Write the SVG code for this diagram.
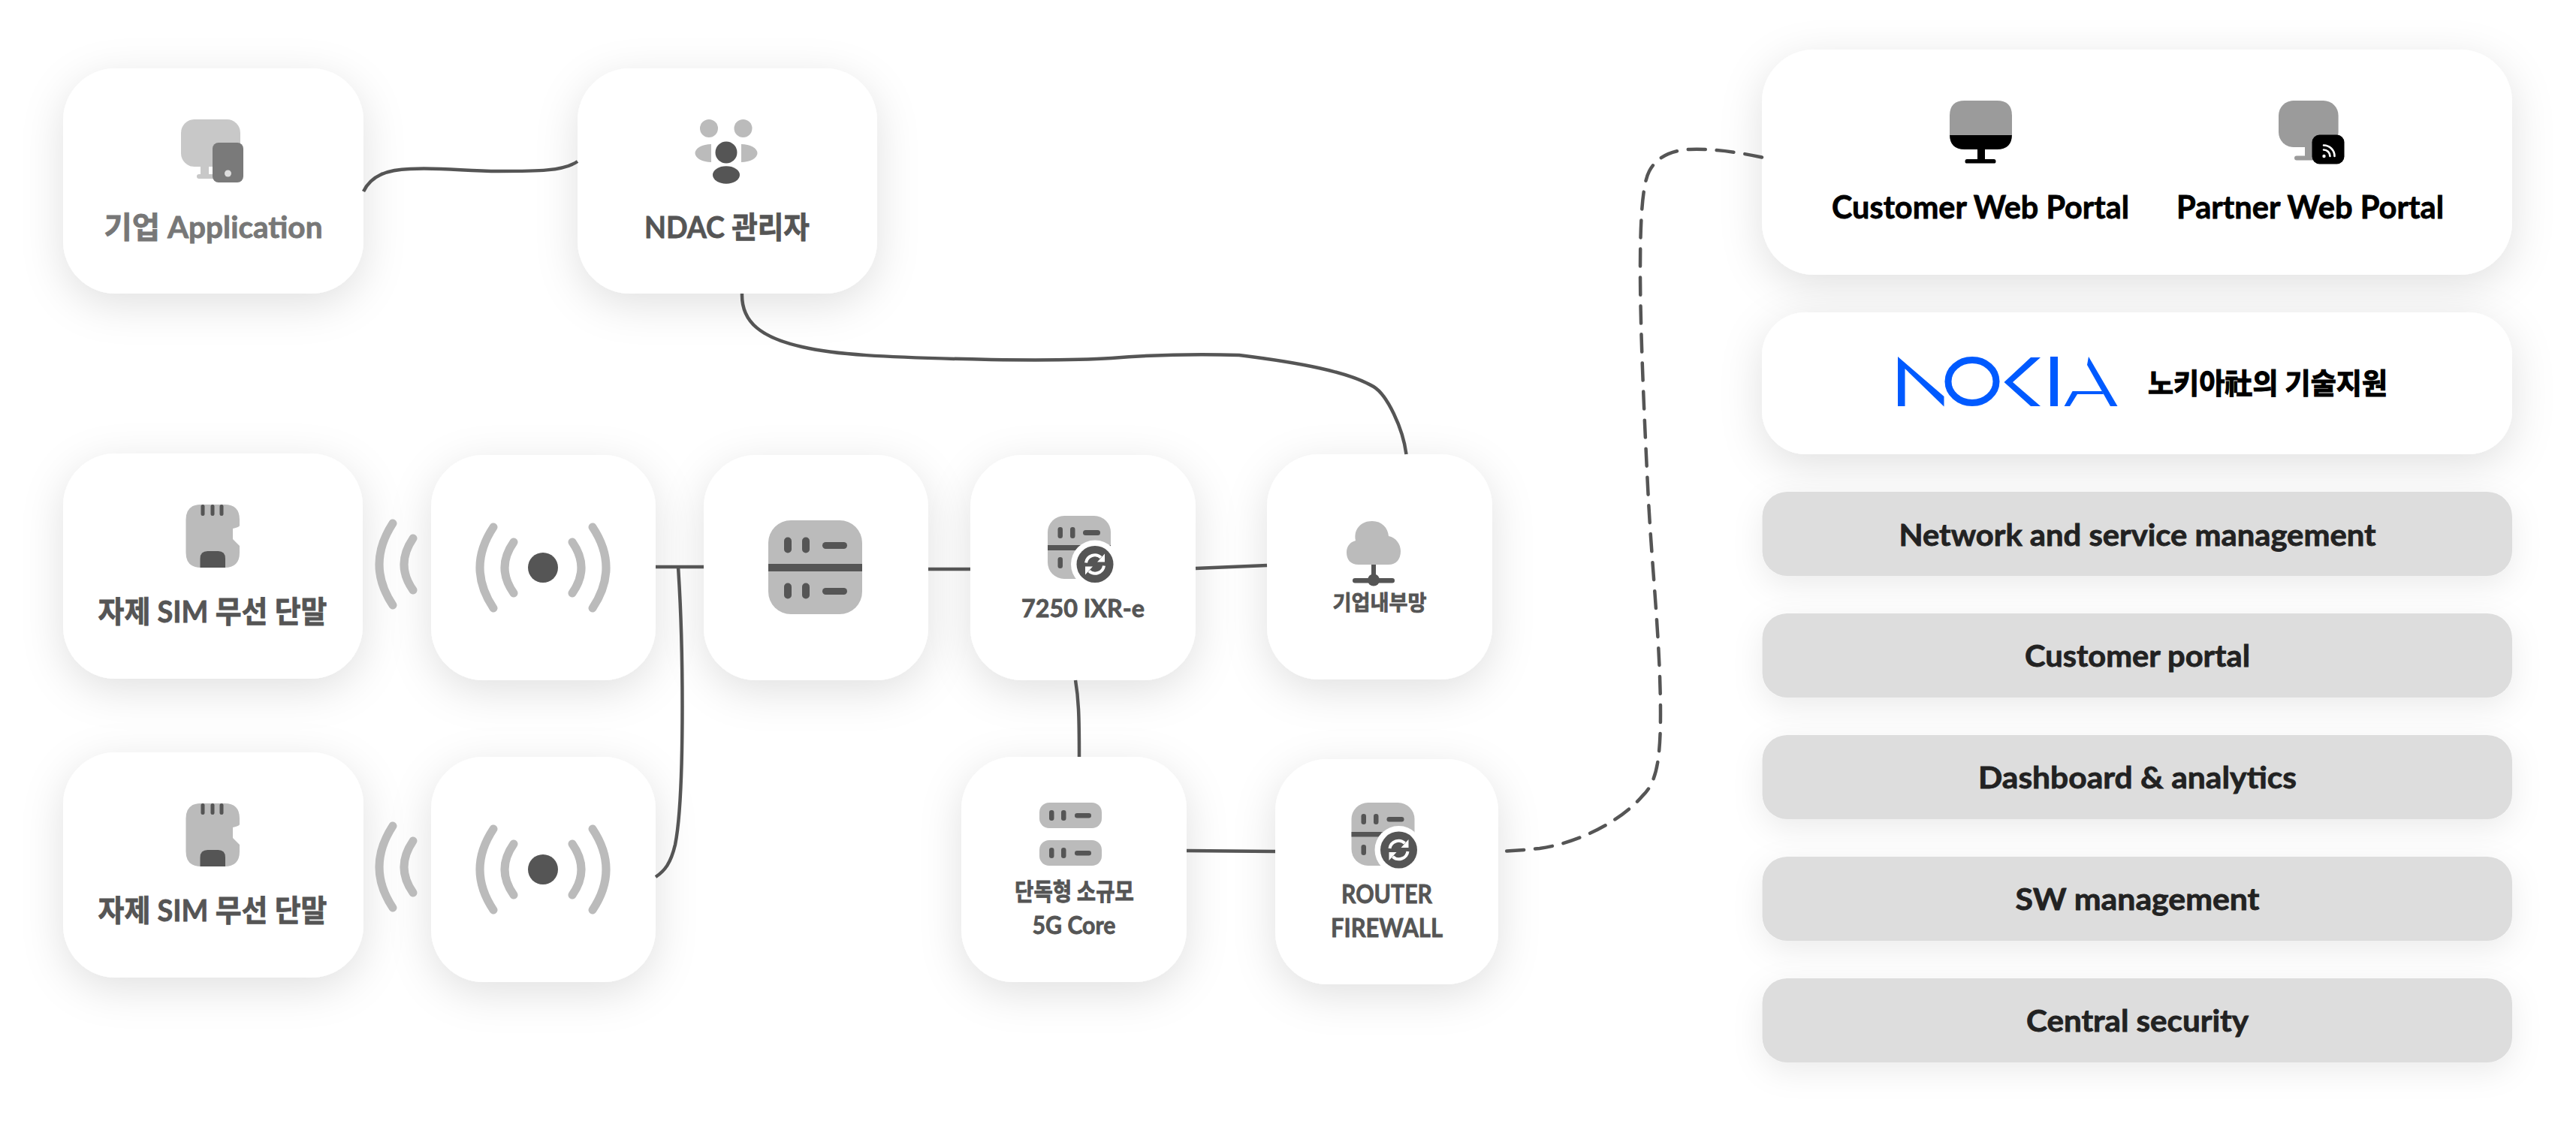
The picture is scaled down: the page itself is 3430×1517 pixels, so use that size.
<svg xmlns="http://www.w3.org/2000/svg" width="3430" height="1517" viewBox="0 0 3430 1517">
<style>
text{font-family:"Lato","Noto Sans CJK KR",sans-serif;font-weight:700;text-anchor:middle;fill:#555;stroke:#555;stroke-width:.8px}
.card{fill:#fff;filter:url(#sh)}
.bar{fill:#ddd;filter:url(#sh2)}
.d{fill:#555}.l{fill:#bbb}
.wave{fill:none;stroke:#bbb;stroke-width:11;stroke-linecap:round}
.conn{fill:none;stroke:#555;stroke-width:4.5}
.dash{stroke-dasharray:23 15;stroke-linecap:round}
.barT{font-size:40px;fill:#222;stroke:#222}
.lbl{font-size:40px}
.port{font-size:42px;fill:#000;stroke:#000}
.blue{fill:#005aff}
</style>
<defs>
<filter id="sh" x="-30%" y="-30%" width="160%" height="170%"><feDropShadow dx="0" dy="14" stdDeviation="28" flood-color="#000" flood-opacity=".12"/></filter>
<filter id="sh2" x="-10%" y="-60%" width="120%" height="240%"><feDropShadow dx="0" dy="12" stdDeviation="20" flood-color="#000" flood-opacity=".08"/></filter>
<clipPath id="simclip"><path d="M20 0H51.500Q71.500 0 71.500 20V28Q71.500 30 62.500 32V46L71.500 55V64Q71.500 84 51.500 84H20Q0 84 0 64V20Q0 0 20 0Z"/></clipPath>
<g id="sim">
<path class="l" d="M20 0H51.500Q71.500 0 71.500 20V28Q71.500 30 62.500 32V46L71.500 55V64Q71.500 84 51.500 84H20Q0 84 0 64V20Q0 0 20 0Z"/>
<g clip-path="url(#simclip)"><path class="d" d="M19 72Q19 62 29 62H43Q52.500 62 52.500 72V84H19Z"/>
<rect class="d" x="20" y="0" width="5" height="15" rx="2.500"/><rect class="d" x="33" y="0" width="5" height="15" rx="2.500"/><rect class="d" x="45" y="0" width="5" height="15" rx="2.500"/></g>
</g>
<g id="ant">
<circle class="d" cx="0" cy="0" r="20"/>
<path class="wave" d="M-39 -34Q-63 0 -39 34M39 -34Q63 0 39 34M-66 -54Q-102 0 -66 54M66 -54Q102 0 66 54"/>
</g>
<g id="twave"><path class="wave" d="M18 -55Q-18 0 18 54"/><path class="wave" d="M45 -35Q21 0 45 34"/></g>
<g id="slot"><rect class="d" x="-5" y="-10.500" width="10" height="21" rx="5"/></g>
<g id="badge">
<circle cx="0" cy="0" r="32" fill="#fff"/>
<circle class="d" cx="0" cy="0" r="24.500"/>
<path d="M-12 -2A12 12 0 0 1 8 -9M12 2A12 12 0 0 1 -8 9" fill="none" stroke="#fff" stroke-width="4"/>
<path d="M13 -14V-3H3ZM-13 14V3H-3Z" fill="#fff"/>
</g>
</defs>
<rect width="3430" height="1517" fill="#fff"/>

<g id="node-app"><rect class="card" x="84" y="91" width="400" height="300" rx="70"/>
<rect x="241" y="159" width="79" height="63" rx="18" fill="#c8c8c8"/><rect x="267" y="218" width="11" height="18" fill="#c8c8c8"/><rect x="262" y="232" width="30" height="6" rx="3" fill="#c8c8c8"/>
<rect x="283" y="190" width="41" height="53" rx="8" fill="#7a7a7a"/><circle cx="303.500" cy="231" r="4.500" fill="#ddd"/>
<text class="lbl" x="284" y="317" style="fill:#777;stroke:#777" textLength="291" lengthAdjust="spacingAndGlyphs">기업 Application</text></g>

<g id="node-ndac"><rect class="card" x="769" y="91" width="399" height="300" rx="70"/>
<circle class="l" cx="944" cy="171" r="12"/><circle class="l" cx="989.500" cy="171" r="12"/>
<path class="l" d="M947 192A21.500 12 0 0 0 947 216ZM987 192A21.500 12 0 0 1 987 216Z"/>
<circle class="d" cx="967" cy="203" r="14.500"/><ellipse class="d" cx="967" cy="233" rx="18" ry="11.700"/>
<text class="lbl" x="968" y="317" textLength="220" lengthAdjust="spacingAndGlyphs">NDAC 관리자</text></g>

<g id="node-ant1"><rect class="card" x="574" y="606" width="299" height="300" rx="70"/><use href="#ant" x="723" y="756"/></g>
<g id="node-ant2"><rect class="card" x="574" y="1008" width="299" height="300" rx="70"/><use href="#ant" x="723" y="1158"/></g>

<g id="node-sim1"><rect class="card" x="84" y="604" width="399" height="300" rx="70"/><use href="#sim" x="247.500" y="672"/><use href="#twave" x="505" y="752"/>
<text class="lbl" x="283" y="829" textLength="305" lengthAdjust="spacingAndGlyphs">자제 SIM 무선 단말</text></g>
<g id="node-sim2"><rect class="card" x="84" y="1002" width="400" height="300" rx="70"/><use href="#sim" x="247.500" y="1070"/><use href="#twave" x="505" y="1155"/>
<text class="lbl" x="283" y="1227" textLength="305" lengthAdjust="spacingAndGlyphs">자제 SIM 무선 단말</text></g>

<g id="node-server"><rect class="card" x="937" y="606" width="299" height="300" rx="70"/>
<rect class="l" x="1023" y="693" width="125" height="125" rx="30"/><rect class="d" x="1023" y="751" width="125" height="10"/>
<use href="#slot" x="1049" y="726"/><use href="#slot" x="1073" y="726"/><rect class="d" x="1095" y="722" width="33" height="9" rx="4.500"/>
<use href="#slot" x="1049" y="787"/><use href="#slot" x="1073" y="787"/><rect class="d" x="1095" y="783" width="33" height="9" rx="4.500"/></g>

<g id="node-ixr"><rect class="card" x="1292" y="606" width="300" height="300" rx="70"/>
<rect class="l" x="1395" y="687" width="84" height="84" rx="22"/><rect class="d" x="1395" y="726" width="84" height="7"/>
<rect class="d" x="1408.500" y="702" width="6.500" height="15" rx="3.200"/><rect class="d" x="1425" y="702" width="6.500" height="15" rx="3.200"/><rect class="d" x="1442" y="706" width="23" height="7" rx="3.500"/>
<rect class="d" x="1408.500" y="742" width="6.500" height="15" rx="3.200"/>
<use href="#badge" x="1458" y="751.500"/>
<text x="1442" y="822" style="font-size:32px" textLength="164" lengthAdjust="spacingAndGlyphs">7250 IXR-e</text></g>

<g id="node-intranet"><rect class="card" x="1687" y="605" width="300" height="300" rx="70"/>
<path class="l" d="M1809 752C1798 752 1793 745 1793 736C1793 727 1798 722 1805 720C1802 705 1812 694 1827 694C1840 694 1848 703 1849 714C1859 716 1865 725 1865 734C1865 745 1859 752 1849 752Z"/>
<rect class="d" x="1826" y="752" width="6" height="20"/><rect class="d" x="1801" y="770" width="56" height="6.500" rx="3.200"/><circle class="d" cx="1829" cy="772.500" r="8"/>
<text x="1837" y="813" style="font-size:28px" textLength="125" lengthAdjust="spacingAndGlyphs">기업내부망</text></g>

<g id="node-core"><rect class="card" x="1280" y="1008" width="300" height="300" rx="70"/>
<rect class="l" x="1384" y="1069" width="83" height="34" rx="13"/><rect class="l" x="1384" y="1119" width="83" height="34" rx="13"/>
<rect class="d" x="1397" y="1079" width="6.500" height="14" rx="3.200"/><rect class="d" x="1413" y="1079" width="6.500" height="14" rx="3.200"/><rect class="d" x="1431" y="1083" width="22" height="6.500" rx="3.200"/>
<rect class="d" x="1397" y="1129" width="6.500" height="14" rx="3.200"/><rect class="d" x="1413" y="1129" width="6.500" height="14" rx="3.200"/><rect class="d" x="1431" y="1133" width="22" height="6.500" rx="3.200"/>
<text x="1430.500" y="1199" style="font-size:32px" textLength="159" lengthAdjust="spacingAndGlyphs">단독형 소규모</text>
<text x="1430" y="1244" style="font-size:32px" textLength="111" lengthAdjust="spacingAndGlyphs">5G Core</text></g>

<g id="node-router"><rect class="card" x="1698" y="1011" width="297" height="300" rx="70"/>
<rect class="l" x="1799.500" y="1069" width="84" height="84" rx="22"/><rect class="d" x="1799.500" y="1108" width="84" height="6.500"/>
<rect class="d" x="1812.500" y="1084" width="6.500" height="14" rx="3.200"/><rect class="d" x="1829" y="1084" width="6.500" height="14" rx="3.200"/><rect class="d" x="1846.500" y="1088" width="23" height="6.500" rx="3.200"/>
<rect class="d" x="1812.500" y="1125" width="6.500" height="14" rx="3.200"/>
<use href="#badge" x="1862.500" y="1132"/>
<text x="1846.500" y="1203" style="font-size:34px" textLength="121" lengthAdjust="spacingAndGlyphs">ROUTER</text>
<text x="1846.500" y="1248" style="font-size:34px" textLength="149" lengthAdjust="spacingAndGlyphs">FIREWALL</text></g>

<g id="node-portals"><rect class="card" x="2346" y="66" width="999" height="300" rx="70"/>
<path d="M2596 180V154Q2596 134 2616 134H2659Q2679 134 2679 154V180Z" fill="#9b9b9b"/>
<path d="M2596 180V179Q2596 199 2616 199H2633V212H2619Q2616.500 212 2616.500 215Q2616.500 217.600 2619 217.600H2655Q2657.500 217.600 2657.500 215Q2657.500 212 2655 212H2643V199H2659Q2679 199 2679 179V180Z"/>
<rect x="3034" y="134" width="79.600" height="62" rx="20" fill="#9b9b9b"/><rect x="3069" y="190" width="10" height="20" fill="#9b9b9b"/><rect x="3055" y="207.500" width="30" height="6" rx="3" fill="#9b9b9b"/>
<rect x="3078.500" y="179.500" width="43" height="39" rx="10"/>
<circle cx="3094.500" cy="208" r="2.200" fill="#fff"/>
<path d="M3094 199.500A8.500 8.500 0 0 1 3102.500 208M3094 193.500A14.500 14.500 0 0 1 3108.500 208" fill="none" stroke="#fff" stroke-width="2.600" stroke-linecap="round"/>
<text class="port" x="2637" y="291" textLength="396" lengthAdjust="spacingAndGlyphs">Customer Web Portal</text>
<text class="port" x="3076" y="291" textLength="356" lengthAdjust="spacingAndGlyphs">Partner Web Portal</text></g>

<g id="node-nokia"><rect class="card" x="2346" y="416" width="999" height="189" rx="58"/>
<g id="nokia-logo">
<polygon class="blue" points="2527,475 2588.500,528 2588.500,541.500 2536.500,491 2536.500,541 2527,541"/>
<ellipse cx="2626" cy="508" rx="32" ry="28.500" fill="none" stroke="#005aff" stroke-width="9"/>
<polygon class="blue" points="2717,476 2704,476 2668.500,509 2704,541 2717,541 2680,509"/>
<rect class="blue" x="2730" y="475" width="10" height="66"/>
<polygon class="blue" points="2781,475 2819.500,541 2810,541 2779,486"/>
<polygon class="blue" points="2748.600,541 2759.600,521 2799,521 2801,525 2766,525 2756,541"/>
</g>
<text x="3019.500" y="524" style="font-size:38px;fill:#000;stroke:#000;stroke-width:1.2px" textLength="319" lengthAdjust="spacingAndGlyphs">노키아社의 기술지원</text></g>

<g id="node-f1"><rect class="bar" x="2346.500" y="655" width="998.500" height="112" rx="33"/><text class="barT" x="2846" y="726.500" textLength="635" lengthAdjust="spacingAndGlyphs">Network and service management</text></g>
<g id="node-f2"><rect class="bar" x="2346.500" y="817" width="998.500" height="112" rx="33"/><text class="barT" x="2846" y="888" textLength="300" lengthAdjust="spacingAndGlyphs">Customer portal</text></g>
<g id="node-f3"><rect class="bar" x="2346.500" y="979" width="998.500" height="112" rx="33"/><text class="barT" x="2846" y="1050" textLength="424" lengthAdjust="spacingAndGlyphs">Dashboard &amp; analytics</text></g>
<g id="node-f4"><rect class="bar" x="2346.500" y="1141" width="998.500" height="112" rx="33"/><text class="barT" x="2846" y="1212" textLength="325" lengthAdjust="spacingAndGlyphs">SW management</text></g>
<g id="node-f5"><rect class="bar" x="2346.500" y="1303" width="998.500" height="112" rx="33"/><text class="barT" x="2846" y="1374" textLength="296" lengthAdjust="spacingAndGlyphs">Central security</text></g>

<g id="connectors">
<path class="conn" d="M484 255C494 234 515 226 546 225C590 223 620 228 664 228C715 228 750 228 769 215"/>
<path class="conn" d="M988 391C987 430 1015 450 1068 462C1110 472 1170 476 1320 479C1400 480 1450 479 1480 477C1530 473 1590 471 1650 473C1730 483 1795 495 1829 515C1847 526 1868 570 1872.500 605"/>
<path class="conn" d="M873 755H937"/>
<path class="conn" d="M903 755C906 800 908.500 850 908.500 940C908.500 1040 905 1095 899 1125C893 1150 885 1160 873 1168"/>
<path class="conn" d="M1236 758H1292"/>
<path class="conn" d="M1592 757L1687 753"/>
<path class="conn" d="M1432 906C1436 930 1437 950 1437 1008"/>
<path class="conn" d="M1580 1133L1698 1134"/>
<path class="conn dash" d="M2346 209.500C2310 202 2280 198 2250 199C2225 200 2205 210 2196 228C2187 245 2184 290 2184 361C2184 440 2190 570 2195 667C2200 760 2211 860 2211 950C2211 1015 2205 1043 2187 1060C2160 1092 2105 1122 2050 1130C2030 1132 2015 1133 2000 1134"/>
</g>
</svg>
